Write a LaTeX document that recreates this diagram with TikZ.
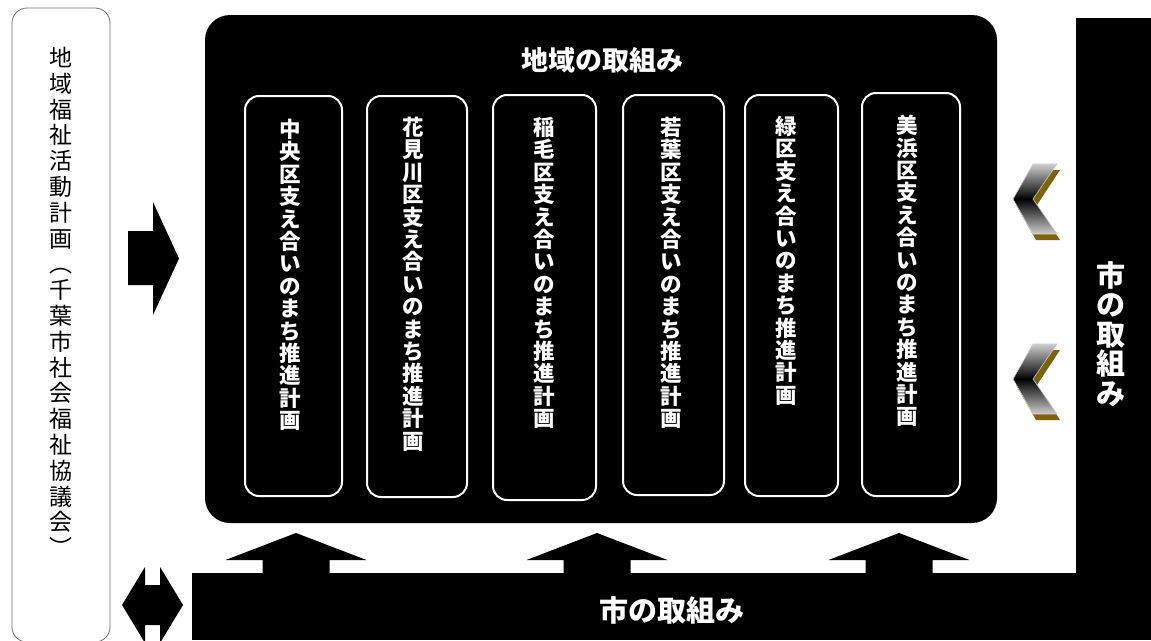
\documentclass[tikz,border=0pt]{standalone}
\usepackage{fontspec}
\setmainfont{Noto Sans CJK JP}
\newfontfamily\jp{Noto Sans CJK JP}
\definecolor{gold}{RGB}{128,98,8}
\definecolor{silver}{RGB}{205,205,205}
\definecolor{frame}{RGB}{110,110,110}
\begin{document}
\begin{tikzpicture}[x=1pt,y=-1pt,
  plan/.style={draw=white, line width=2pt, rounded corners=14pt, fill=black, inner sep=0pt},
  vt/.style={anchor=north, align=center, inner sep=0pt, text=white,
    font=\jp\bfseries\fontsize{21.5}{22.4}\selectfont},
  bigw/.style={text=white, inner sep=0pt, font=\jp\bfseries\fontsize{29}{29.6}\selectfont},
  blk/.style={fill=black}]
\useasboundingbox (0,0) rectangle (1151,640);
\clip (0,0) rectangle (1151,640);

% left box
\draw[draw=frame, line width=0.8pt, rounded corners=15pt] (12,8) rectangle (110,642);
\node[anchor=north, align=center, inner sep=0pt, font=\jp\fontsize{23}{25.8}\selectfont] (lt) at (61,47)
 {地\\域\\福\\祉\\活\\動\\計\\画\\︵\\千\\葉\\市\\社\\会\\福\\祉\\協\\議\\会\\︶};

% main region
\fill[rounded corners=25pt] (205,15) rectangle (997,523);
\node[text=white, inner sep=0pt, font=\jp\bfseries\fontsize{27}{30}\selectfont] (title) at (602,60) {地域の取組み};

\node[plan, minimum width=97pt, minimum height=400pt] (b1) at (293.5,296) {};
\node[plan, minimum width=100pt, minimum height=401pt] (b2) at (417,296.5) {};
\node[plan, minimum width=103pt, minimum height=405pt] (b3) at (544.5,297.5) {};
\node[plan, minimum width=101pt, minimum height=400pt] (b4) at (673.5,295) {};
\node[plan, minimum width=93pt, minimum height=401pt] (b5) at (791.5,295.5) {};
\node[plan, minimum width=98pt, minimum height=403pt] (b6) at (911,294.5) {};

\node[vt] (t1) at (290,119) {中\\央\\区\\支\\え\\合\\い\\の\\ま\\ち\\推\\進\\計\\画};
\node[vt] (t2) at (413.5,117) {花\\見\\川\\区\\支\\え\\合\\い\\の\\ま\\ち\\推\\進\\計\\画};
\node[vt] (t3) at (544,117) {稲\\毛\\区\\支\\え\\合\\い\\の\\ま\\ち\\推\\進\\計\\画};
\node[vt] (t4) at (671,117) {若\\葉\\区\\支\\え\\合\\い\\の\\ま\\ち\\推\\進\\計\\画};
\node[vt] (t5) at (786,116) {緑\\区\\支\\え\\合\\い\\の\\ま\\ち\\推\\進\\計\\画};
\node[vt] (t6) at (907.5,115) {美\\浜\\区\\支\\え\\合\\い\\の\\ま\\ち\\推\\進\\計\\画};

% city L-shaped band
\fill[blk] (1076,18) rectangle (1151,640);
\fill[blk] (192,573) rectangle (1151,640);
\node[bigw, anchor=north, align=center] (cv) at (1111,261) {市\\の\\取\\組\\み};
\node[bigw] (ch) at (672,610) {市の取組み};

% up arrows
\foreach \cx in {296,597,899}{
  \fill[blk] ({\cx-70.5},560) -- (\cx,533) -- ({\cx+70.5},560) -- ({\cx+33.5},560)
    -- ({\cx+33.5},574) -- ({\cx-33.5},574) -- ({\cx-33.5},560) -- cycle;
}

% right arrow
\fill[blk] (128,231) -- (153,231) -- (153,202) -- (179,258.5) -- (153,315) -- (153,285) -- (128,285) -- cycle;

% double arrow
\fill[blk] (122,605) -- (145,567) -- (145,585) -- (160,585) -- (160,567) -- (183,605)
  -- (160,643) -- (160,625) -- (145,625) -- (145,643) -- cycle;

% chevrons
\foreach \dy in {0,180}{
  \begin{scope}[yshift=-\dy pt]
    \fill[gold] (1060,170) -- (1036,170) -- (1016,205) -- (1036,240) -- (1060,240) -- (1037,205) -- cycle;
    \shade[top color=silver, bottom color=silver, middle color=black, draw=silver, line width=0.6pt]
      (1057,164) -- (1033,164) -- (1013,199) -- (1033,234) -- (1057,234) -- (1033,199) -- cycle;
  \end{scope}
}
\end{tikzpicture}
\end{document}
